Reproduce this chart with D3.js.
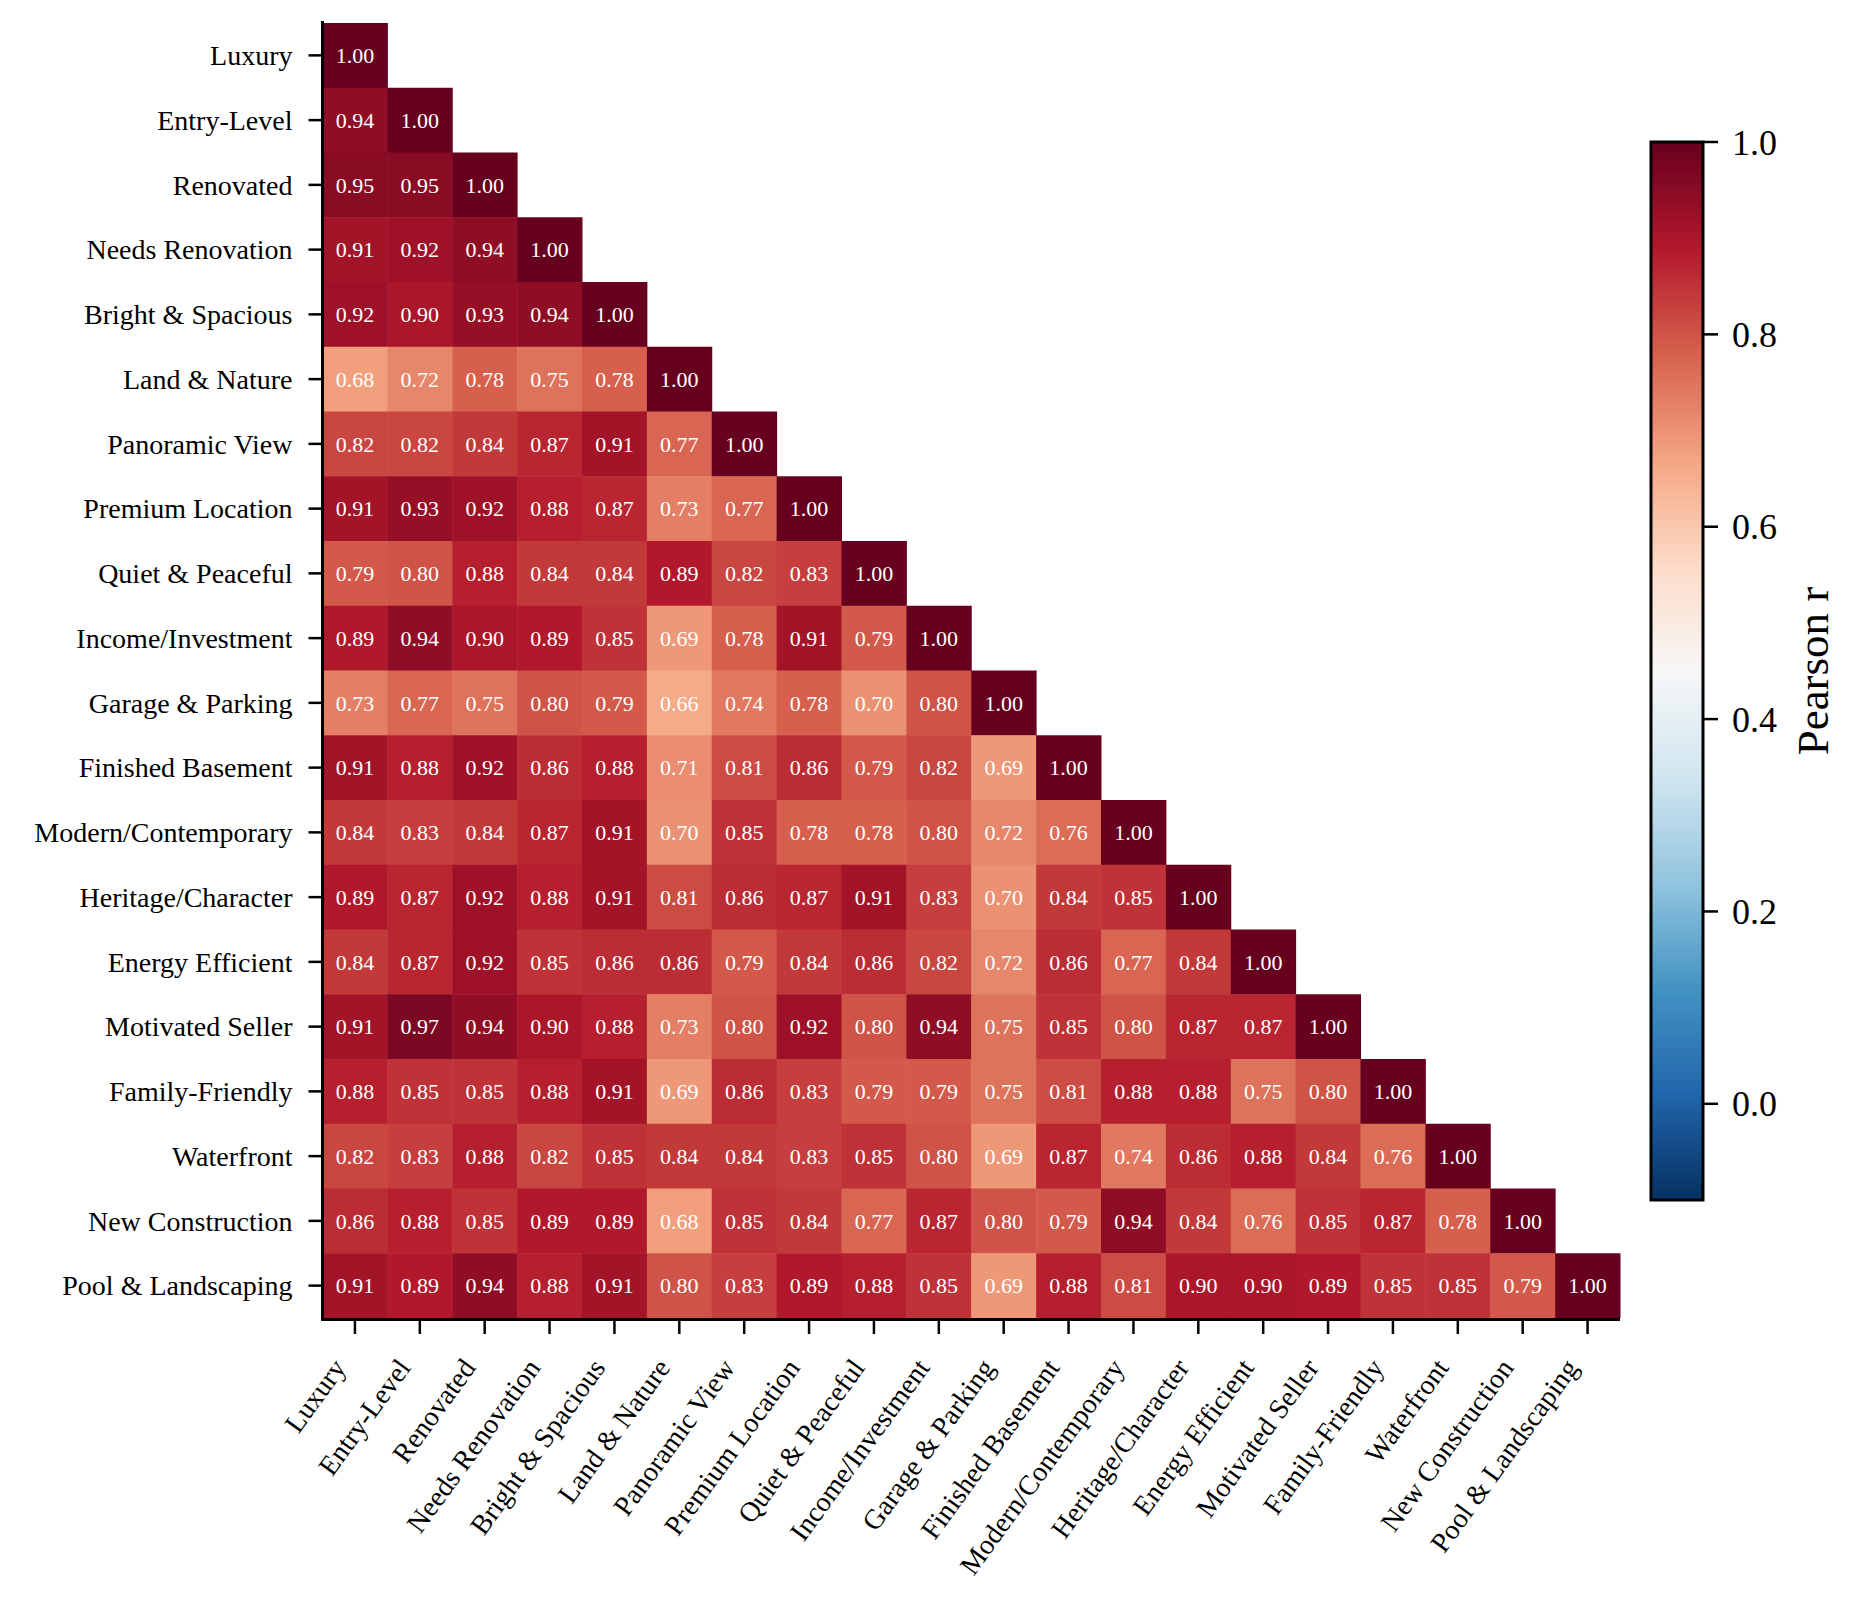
<!DOCTYPE html>
<html>
<head>
<meta charset="utf-8">
<script src="https://cdn.jsdelivr.net/npm/d3@7"></script>
<style>
    body { margin: 0; background: #fff; }
    text { font-family: "Liberation Serif", "Times New Roman", serif; }
</style>
</head>
<body>
<div id="chart"></div>
<script>
// labels, same order on both axes
let labels = ["Luxury", "Entry-Level", "Renovated", "Needs Renovation", "Bright & Spacious",
    "Land & Nature", "Panoramic View", "Premium Location", "Quiet & Peaceful", "Income/Investment",
    "Garage & Parking", "Finished Basement", "Modern/Contemporary", "Heritage/Character",
    "Energy Efficient", "Motivated Seller", "Family-Friendly", "Waterfront", "New Construction",
    "Pool & Landscaping"]

// lower triangle of the correlation matrix, row by row
let corrRows = [
    [1.00],
    [0.94, 1.00],
    [0.95, 0.95, 1.00],
    [0.91, 0.92, 0.94, 1.00],
    [0.92, 0.90, 0.93, 0.94, 1.00],
    [0.68, 0.72, 0.78, 0.75, 0.78, 1.00],
    [0.82, 0.82, 0.84, 0.87, 0.91, 0.77, 1.00],
    [0.91, 0.93, 0.92, 0.88, 0.87, 0.73, 0.77, 1.00],
    [0.79, 0.80, 0.88, 0.84, 0.84, 0.89, 0.82, 0.83, 1.00],
    [0.89, 0.94, 0.90, 0.89, 0.85, 0.69, 0.78, 0.91, 0.79, 1.00],
    [0.73, 0.77, 0.75, 0.80, 0.79, 0.66, 0.74, 0.78, 0.70, 0.80, 1.00],
    [0.91, 0.88, 0.92, 0.86, 0.88, 0.71, 0.81, 0.86, 0.79, 0.82, 0.69, 1.00],
    [0.84, 0.83, 0.84, 0.87, 0.91, 0.70, 0.85, 0.78, 0.78, 0.80, 0.72, 0.76, 1.00],
    [0.89, 0.87, 0.92, 0.88, 0.91, 0.81, 0.86, 0.87, 0.91, 0.83, 0.70, 0.84, 0.85, 1.00],
    [0.84, 0.87, 0.92, 0.85, 0.86, 0.86, 0.79, 0.84, 0.86, 0.82, 0.72, 0.86, 0.77, 0.84, 1.00],
    [0.91, 0.97, 0.94, 0.90, 0.88, 0.73, 0.80, 0.92, 0.80, 0.94, 0.75, 0.85, 0.80, 0.87, 0.87, 1.00],
    [0.88, 0.85, 0.85, 0.88, 0.91, 0.69, 0.86, 0.83, 0.79, 0.79, 0.75, 0.81, 0.88, 0.88, 0.75, 0.80, 1.00],
    [0.82, 0.83, 0.88, 0.82, 0.85, 0.84, 0.84, 0.83, 0.85, 0.80, 0.69, 0.87, 0.74, 0.86, 0.88, 0.84, 0.76, 1.00],
    [0.86, 0.88, 0.85, 0.89, 0.89, 0.68, 0.85, 0.84, 0.77, 0.87, 0.80, 0.79, 0.94, 0.84, 0.76, 0.85, 0.87, 0.78, 1.00],
    [0.91, 0.89, 0.94, 0.88, 0.91, 0.80, 0.83, 0.89, 0.88, 0.85, 0.69, 0.88, 0.81, 0.90, 0.90, 0.89, 0.85, 0.85, 0.79, 1.00]
]

let colorDomain = [-0.1, 1.0]
let colorbarTicks = [0.0, 0.2, 0.4, 0.6, 0.8, 1.0]

// RdBu reversed, the 11 brewer colours matplotlib interpolates between
let rdbu = ["#053061", "#2166ac", "#4393c3", "#92c5de", "#d1e5f0", "#f7f7f7",
    "#fddbc7", "#f4a582", "#d6604d", "#b2182b", "#67001f"]

let width = 1861
let height = 1608

// NB: "top" is taken by window.top, so prefix these
let plotLeft = 322.5
let plotTop = 23
let plotRight = 1620
let plotBottom = 1318

let svg = d3.select("#chart").append("svg")
    .attr("width", width)
    .attr("height", height)

let x = d3.scaleBand().domain(labels).range([plotLeft, plotRight])
let y = d3.scaleBand().domain(labels).range([plotTop, plotBottom])

let colorStops = d3.range(rdbu.length).map(i => colorDomain[0] + (colorDomain[1] - colorDomain[0]) * i / (rdbu.length - 1))
let color = d3.scaleLinear().domain(colorStops).range(rdbu).interpolate(d3.interpolateRgb).clamp(true)

// flatten to cells
let cells = []
corrRows.forEach((row, i) => {
    row.forEach((v, j) => cells.push({row: labels[i], col: labels[j], value: v}))
})

let cellG = svg.append("g").selectAll("g")
    .data(cells)
    .enter()
    .append("g")

cellG.append("rect")
    .attr("x", d => x(d.col))
    .attr("y", d => y(d.row))
    .attr("width", x.bandwidth() + 0.5)
    .attr("height", y.bandwidth() + 0.5)
    .attr("fill", d => color(d.value))

cellG.append("text")
    .attr("x", d => x(d.col) + x.bandwidth() / 2)
    .attr("y", d => y(d.row) + y.bandwidth() / 2)
    .attr("dy", "0.35em")
    .attr("text-anchor", "middle")
    .attr("font-size", 22)
    .attr("fill", "white")
    .text(d => d.value.toFixed(2))

// spines, left and bottom only
svg.append("line")
    .attr("x1", plotLeft).attr("x2", plotLeft)
    .attr("y1", plotTop - 2).attr("y2", plotBottom + 3)
    .attr("stroke", "black").attr("stroke-width", 3)
svg.append("line")
    .attr("x1", plotLeft - 1.5).attr("x2", plotRight)
    .attr("y1", plotBottom + 1.5).attr("y2", plotBottom + 1.5)
    .attr("stroke", "black").attr("stroke-width", 3)

// y ticks + labels
let yTicks = svg.append("g").selectAll("g")
    .data(labels)
    .enter()
    .append("g")
    .attr("transform", d => "translate(0," + (y(d) + y.bandwidth() / 2) + ")")
yTicks.append("line")
    .attr("x1", plotLeft - 14).attr("x2", plotLeft)
    .attr("stroke", "black").attr("stroke-width", 2.5)
yTicks.append("text")
    .attr("x", plotLeft - 30)
    .attr("dy", "0.35em")
    .attr("text-anchor", "end")
    .attr("font-size", 28)
    .text(d => d)

// x ticks + rotated labels
let xTicks = svg.append("g").selectAll("g")
    .data(labels)
    .enter()
    .append("g")
    .attr("transform", d => "translate(" + (x(d) + x.bandwidth() / 2) + ",0)")
xTicks.append("line")
    .attr("y1", plotBottom + 3).attr("y2", plotBottom + 16)
    .attr("stroke", "black").attr("stroke-width", 2.5)
xTicks.append("text")
    .attr("transform", "translate(-8," + (plotBottom + 50) + ") rotate(-54)")
    .attr("text-anchor", "end")
    .attr("font-size", 28)
    .text(d => d)

// colorbar
let cbX = 1651
let cbW = 52
let cbY = d3.scaleLinear().domain(colorDomain).range([1200, 142])

let grad = svg.append("defs").append("linearGradient")
    .attr("id", "cbGrad")
    .attr("x1", "0").attr("x2", "0")
    .attr("y1", "1").attr("y2", "0")
grad.selectAll("stop")
    .data(d3.range(0, 1.0001, 0.02))
    .enter()
    .append("stop")
    .attr("offset", d => d)
    .attr("stop-color", d => color(colorDomain[0] + d * (colorDomain[1] - colorDomain[0])))

svg.append("rect")
    .attr("x", cbX)
    .attr("y", cbY(colorDomain[1]))
    .attr("width", cbW)
    .attr("height", cbY(colorDomain[0]) - cbY(colorDomain[1]))
    .attr("fill", "url(#cbGrad)")
    .attr("stroke", "black")
    .attr("stroke-width", 3)

let cbTickG = svg.append("g").selectAll("g")
    .data(colorbarTicks)
    .enter()
    .append("g")
    .attr("transform", d => "translate(" + (cbX + cbW) + "," + cbY(d) + ")")
cbTickG.append("line")
    .attr("x1", 0).attr("x2", 15)
    .attr("stroke", "black").attr("stroke-width", 2.5)
cbTickG.append("text")
    .attr("x", 29)
    .attr("dy", "0.35em")
    .attr("font-size", 36)
    .text(d => d.toFixed(1))

svg.append("text")
    .attr("transform", "translate(1828," + ((cbY(colorDomain[0]) + cbY(colorDomain[1])) / 2) + ") rotate(-90)")
    .attr("text-anchor", "middle")
    .attr("font-size", 45)
    .text("Pearson r")
</script>
</body>
</html>
